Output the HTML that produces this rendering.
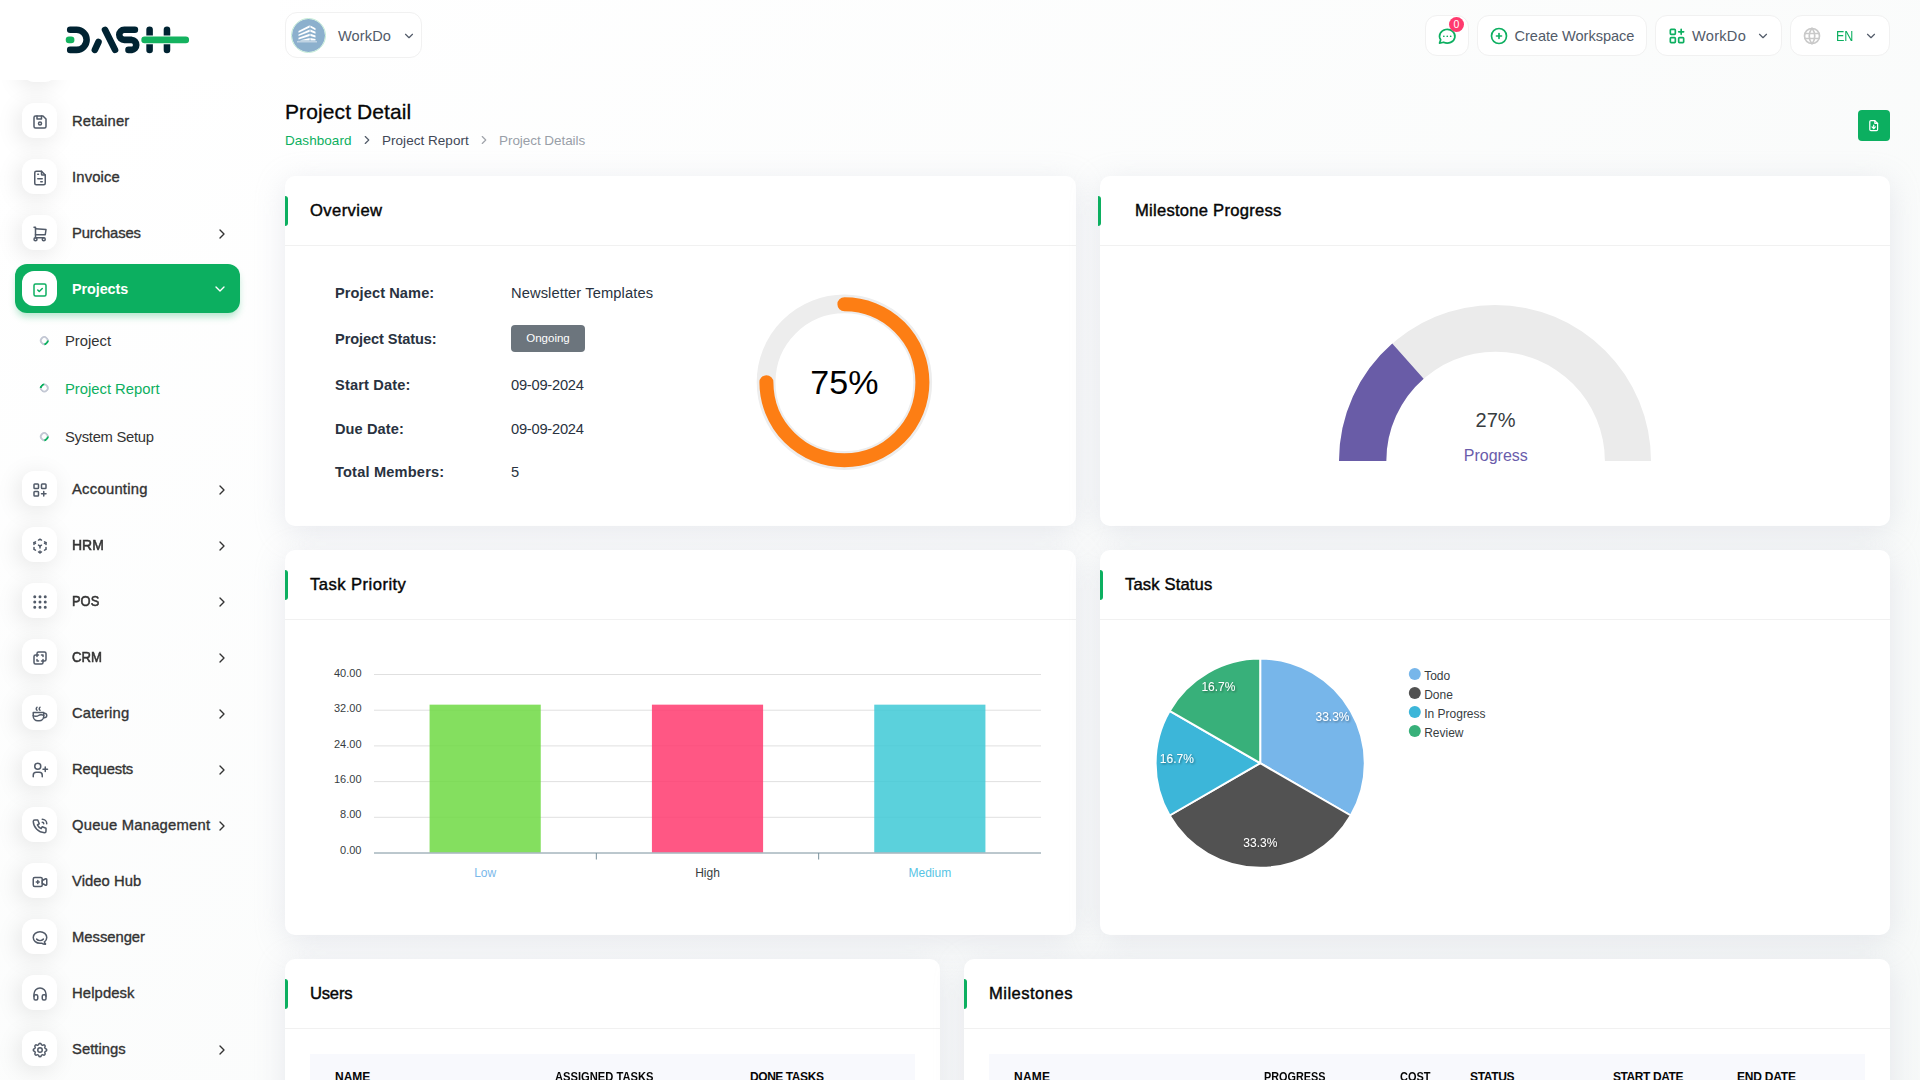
<!DOCTYPE html>
<html lang="en">
<head>
<meta charset="utf-8">
<title>Project Detail</title>
<style>
*{box-sizing:border-box;margin:0;padding:0}
html,body{width:1920px;height:1080px;overflow:hidden}
body{font-family:"Liberation Sans",sans-serif;color:#293240;background:#fff;position:relative}
#root{position:relative;width:1920px;height:1080px;overflow:hidden}
#bg{position:absolute;left:0;top:0;width:1920px;height:3000px;background:linear-gradient(141.55deg,rgba(240,244,243,0) 3.46%,#f0f4f3 99.86%),#fff}
svg{display:block}
.ico{fill:none;stroke:currentColor;stroke-width:2;stroke-linecap:round;stroke-linejoin:round}
.abs{position:absolute}
/* ---------- sidebar ---------- */
#sidebar{position:absolute;left:0;top:0;width:280px;height:1080px}
#logo{position:absolute;left:60px;top:20px}
#nav{position:absolute;left:0;top:80px;width:280px;height:1000px;overflow:hidden}
.ni{position:absolute;left:15px;width:225px;height:49px;border-radius:12px}
.ni .mic{position:absolute;left:7px;top:7px;width:35px;height:35px;border-radius:12px;background:#fff;
  box-shadow:-3px 4px 23px rgba(0,0,0,.1);color:#525b69}
.ni .mic svg{position:absolute;left:8.85px;top:10.1px;width:18px;height:18px}
.ni .tx{position:absolute;left:57px;top:1px;line-height:49px;font-size:14.8px;color:#333;white-space:nowrap;-webkit-text-stroke:.35px #333}
.ni .ar{position:absolute;left:199px;top:18px;width:16px;height:16px;color:#333}
.ni .ar svg{width:16px;height:16px;stroke-width:2}
.ni.act{background:#0CAF60;box-shadow:0 5px 7px -1px rgba(12,175,96,.3)}
.ni.act .tx{color:#fff;-webkit-text-stroke:0;font-weight:bold;font-size:14.4px}
.ni.act .mic{color:#0CAF60;box-shadow:none}
.ni.act .ar{color:#fff;left:197px;top:16.5px}
.si{position:absolute;left:0;width:240px;height:48px}
.si .bl{position:absolute;left:39.7px;top:19px;width:8.6px;height:8.6px;border-radius:50%;border:2px solid #c3c8d4;border-right-color:#0CAF60;transform:rotate(45deg)}
.si.act .bl{transform:rotate(225deg)}
.si .tx{position:absolute;left:65px;top:0;line-height:48px;font-size:14.8px;color:#333;white-space:nowrap}
.si.act .tx{color:#0CAF60}
/* ---------- header ---------- */
.hb{position:absolute;background:#fff;border:1px solid #f1f1f1;border-radius:12px}
.hb .t{position:absolute;white-space:nowrap;font-size:14.6px;color:#525b69;line-height:20px}
/* ---------- cards ---------- */
.card{position:absolute;background:#fff;border-radius:10px;box-shadow:0 6px 30px rgba(182,186,203,.3)}
.card .hd{position:absolute;left:0;top:0;right:0;height:70px;border-bottom:1px solid #f1f1f1}
.card .hd:before{content:"";position:absolute;left:0;top:20px;width:3px;height:30px;background:#0CAF60;border-radius:0 3px 3px 0}
.card .hd h5{position:absolute;left:25px;top:1px;line-height:68px;font-size:16.6px;font-weight:normal;color:#060606;white-space:nowrap;-webkit-text-stroke:.42px #060606}
.card .hd2:before{left:-2px}
.lbl{position:absolute;left:50px;font-size:14.6px;font-weight:bold;color:#293240;white-space:nowrap;line-height:20px}
.val{position:absolute;left:226px;font-size:14.7px;color:#293240;white-space:nowrap;line-height:20px}
.th{position:absolute;font-size:12px;font-weight:bold;color:#060606;white-space:nowrap;line-height:14px;top:16px}
</style>
</head>
<body>
<div id="root">
<div id="bg"></div>

<!-- ================= SIDEBAR ================= -->
<div id="sidebar">
  <div id="nav">
    <div class="ni" style="top:-40px"><span class="mic"><svg class="ico" viewBox="0 0 24 24" ><path d="M6 4h10l4 4v10a2 2 0 0 1 -2 2h-12a2 2 0 0 1 -2 -2v-12a2 2 0 0 1 2 -2"/><circle cx="12" cy="14" r="2"/><polyline points="14 4 14 8 8 8 8 4"/></svg></span><span class="tx" style="letter-spacing:-0.146px">Prev</span></div>
    <div class="ni" style="top:16px"><span class="mic"><svg class="ico" viewBox="0 0 24 24" ><path d="M6 4h10l4 4v10a2 2 0 0 1 -2 2h-12a2 2 0 0 1 -2 -2v-12a2 2 0 0 1 2 -2"/><circle cx="12" cy="14" r="2"/><polyline points="14 4 14 8 8 8 8 4"/></svg></span><span class="tx" style="letter-spacing:0.188px">Retainer</span></div>
    <div class="ni" style="top:72px"><span class="mic"><svg class="ico" viewBox="0 0 24 24" ><path d="M14 3v4a1 1 0 0 0 1 1h4"/><path d="M17 21h-10a2 2 0 0 1 -2 -2v-14a2 2 0 0 1 2 -2h7l5 5v11a2 2 0 0 1 -2 2z"/><line x1="9" y1="7" x2="10" y2="7"/><line x1="9" y1="13" x2="15" y2="13"/><line x1="13" y1="17" x2="15" y2="17"/></svg></span><span class="tx" style="letter-spacing:0.143px">Invoice</span></div>
    <div class="ni" style="top:128px"><span class="mic"><svg class="ico" viewBox="0 0 24 24" ><circle cx="6" cy="19" r="2"/><circle cx="17" cy="19" r="2"/><path d="M17 17h-11v-14h-2"/><path d="M6 5l14 1l-1 7h-13"/></svg></span><span class="tx" style="letter-spacing:-0.115px">Purchases</span><span class="ar"><svg class="ico" viewBox="0 0 24 24" ><polyline points="9 6 15 12 9 18"/></svg></span></div>
    <div class="ni act" style="top:184px"><span class="mic"><svg class="ico" viewBox="0 0 24 24" ><rect x="4" y="4" width="16" height="16" rx="2"/><path d="M9 12l2 2l4 -4"/></svg></span><span class="tx" style="letter-spacing:-0.078px">Projects</span><span class="ar"><svg class="ico" viewBox="0 0 24 24" ><polyline points="6 9 12 15 18 9"/></svg></span></div>
    <div class="ni" style="top:384px"><span class="mic"><svg class="ico" viewBox="0 0 24 24" ><rect x="4" y="4" width="6" height="6" rx="1"/><rect x="14" y="4" width="6" height="6" rx="1"/><rect x="4" y="14" width="6" height="6" rx="1"/><path d="M14 17h6m-3 -3v6"/></svg></span><span class="tx" style="letter-spacing:0.253px">Accounting</span><span class="ar"><svg class="ico" viewBox="0 0 24 24" ><polyline points="9 6 15 12 9 18"/></svg></span></div>
    <div class="ni" style="top:440px"><span class="mic"><svg class="ico" viewBox="0 0 24 24" ><path d="M6 17.6l-2 -1.1v-2.5"/><path d="M4 10v-2.5l2 -1.1"/><path d="M10 4.1l2 -1.1l2 1.1"/><path d="M18 6.4l2 1.1v2.5"/><path d="M20 14v2.5l-2 1.12"/><path d="M14 19.9l-2 1.1l-2 -1.1"/><line x1="12" y1="12" x2="14" y2="10.9"/><line x1="18" y1="8.6" x2="20" y2="7.5"/><line x1="12" y1="12" x2="12" y2="14.5"/><line x1="12" y1="18.5" x2="12" y2="21"/><path d="M12 12l-2 -1.12"/><line x1="6" y1="8.6" x2="4" y2="7.5"/></svg></span><span class="tx" style="transform:scaleX(0.942);transform-origin:0 50%;-webkit-text-stroke:.55px #333">HRM</span><span class="ar"><svg class="ico" viewBox="0 0 24 24" ><polyline points="9 6 15 12 9 18"/></svg></span></div>
    <div class="ni" style="top:496px"><span class="mic"><svg class="ico" viewBox="0 0 24 24" ><circle cx="5" cy="5" r="1" fill="currentColor"/><circle cx="12" cy="5" r="1" fill="currentColor"/><circle cx="19" cy="5" r="1" fill="currentColor"/><circle cx="5" cy="12" r="1" fill="currentColor"/><circle cx="12" cy="12" r="1" fill="currentColor"/><circle cx="19" cy="12" r="1" fill="currentColor"/><circle cx="5" cy="19" r="1" fill="currentColor"/><circle cx="12" cy="19" r="1" fill="currentColor"/><circle cx="19" cy="19" r="1" fill="currentColor"/></svg></span><span class="tx" style="transform:scaleX(0.872);transform-origin:0 50%;-webkit-text-stroke:.55px #333">POS</span><span class="ar"><svg class="ico" viewBox="0 0 24 24" ><polyline points="9 6 15 12 9 18"/></svg></span></div>
    <div class="ni" style="top:552px"><span class="mic"><svg class="ico" viewBox="0 0 24 24" ><path d="M16 16v2a2 2 0 0 1 -2 2h-8a2 2 0 0 1 -2 -2v-8a2 2 0 0 1 2 -2h2v-2a2 2 0 0 1 2 -2h8a2 2 0 0 1 2 2v8a2 2 0 0 1 -2 2h-2"/><polyline points="10 8 8 8 8 10"/><polyline points="8 14 8 16 10 16"/><polyline points="14 8 16 8 16 10"/><polyline points="16 14 16 16 14 16"/></svg></span><span class="tx" style="transform:scaleX(0.890);transform-origin:0 50%;-webkit-text-stroke:.55px #333">CRM</span><span class="ar"><svg class="ico" viewBox="0 0 24 24" ><polyline points="9 6 15 12 9 18"/></svg></span></div>
    <div class="ni" style="top:608px"><span class="mic"><svg class="ico" viewBox="0 0 24 24" ><path d="M3 14c.83 .642 2.077 1.017 3.5 1c1.423 .017 2.67 -.358 3.5 -1c.83 -.642 2.077 -1.017 3.5 -1c1.423 -.017 2.67 .358 3.5 1"/><path d="M8 3a2.4 2.4 0 0 0 -1 2a2.4 2.4 0 0 0 1 2"/><path d="M12 3a2.4 2.4 0 0 0 -1 2a2.4 2.4 0 0 0 1 2"/><path d="M3 10h14v5a6 6 0 0 1 -6 6h-2a6 6 0 0 1 -6 -6v-5z"/><path d="M16.746 16.726a3 3 0 1 0 .252 -5.555"/></svg></span><span class="tx" style="letter-spacing:0.188px">Catering</span><span class="ar"><svg class="ico" viewBox="0 0 24 24" ><polyline points="9 6 15 12 9 18"/></svg></span></div>
    <div class="ni" style="top:664px"><span class="mic"><svg class="ico" viewBox="0 0 24 24" ><circle cx="9" cy="7" r="4"/><path d="M3 21v-2a4 4 0 0 1 4 -4h4a4 4 0 0 1 4 4v2"/><path d="M16 11h6m-3 -3v6"/></svg></span><span class="tx" style="letter-spacing:-0.181px">Requests</span><span class="ar"><svg class="ico" viewBox="0 0 24 24" ><polyline points="9 6 15 12 9 18"/></svg></span></div>
    <div class="ni" style="top:720px"><span class="mic"><svg class="ico" viewBox="0 0 24 24" ><path d="M5 4h4l2 5l-2.5 1.5a11 11 0 0 0 5 5l1.5 -2.5l5 2v4a2 2 0 0 1 -2 2a16 16 0 0 1 -15 -15a2 2 0 0 1 2 -2"/><path d="M15 7a2 2 0 0 1 2 2"/><path d="M15 3a6 6 0 0 1 6 6"/></svg></span><span class="tx" style="letter-spacing:0.206px">Queue Management</span><span class="ar"><svg class="ico" viewBox="0 0 24 24" ><polyline points="9 6 15 12 9 18"/></svg></span></div>
    <div class="ni" style="top:776px"><span class="mic"><svg class="ico" viewBox="0 0 24 24" ><path d="M15 10l4.553 -2.276a1 1 0 0 1 1.447 .894v6.764a1 1 0 0 1 -1.447 .894l-4.553 -2.276v-4z"/><rect x="3" y="6" width="12" height="12" rx="2"/><line x1="7" y1="12" x2="11" y2="12"/><line x1="9" y1="10" x2="9" y2="14"/></svg></span><span class="tx" style="letter-spacing:0.051px">Video Hub</span></div>
    <div class="ni" style="top:832px"><span class="mic"><svg class="ico" viewBox="0 0 24 24" ><path d="M17.802 17.292s.077 -.055 .2 -.149c1.843 -1.425 3 -3.49 3 -5.789c0 -4.286 -4.03 -7.764 -9 -7.764c-4.97 0 -9 3.478 -9 7.764c0 4.288 4.03 7.646 9 7.646c.424 0 1.12 -.028 2.088 -.084c1.262 .82 3.104 1.493 4.716 1.493c.499 0 .734 -.41 .414 -.828c-.486 -.596 -1.156 -1.551 -1.416 -2.29z"/><path d="M7.5 13.5c2.5 2.5 6.5 2.5 9 0"/></svg></span><span class="tx" style="letter-spacing:-0.025px">Messenger</span></div>
    <div class="ni" style="top:888px"><span class="mic"><svg class="ico" viewBox="0 0 24 24" ><rect x="4" y="13" rx="2" width="5" height="7"/><rect x="15" y="13" rx="2" width="5" height="7"/><path d="M4 15v-3a8 8 0 0 1 16 0v3"/></svg></span><span class="tx" style="letter-spacing:0.116px">Helpdesk</span></div>
    <div class="ni" style="top:944px"><span class="mic"><svg class="ico" viewBox="0 0 24 24" ><path d="M10.325 4.317c.426 -1.756 2.924 -1.756 3.35 0a1.724 1.724 0 0 0 2.573 1.066c1.543 -.94 3.31 .826 2.37 2.37a1.724 1.724 0 0 0 1.065 2.572c1.756 .426 1.756 2.924 0 3.35a1.724 1.724 0 0 0 -1.066 2.573c.94 1.543 -.826 3.31 -2.37 2.37a1.724 1.724 0 0 0 -2.572 1.065c-.426 1.756 -2.924 1.756 -3.35 0a1.724 1.724 0 0 0 -2.573 -1.066c-1.543 .94 -3.31 -.826 -2.37 -2.37a1.724 1.724 0 0 0 -1.065 -2.572c-1.756 -.426 -1.756 -2.924 0 -3.35a1.724 1.724 0 0 0 1.066 -2.573c-.94 -1.543 .826 -3.31 2.37 -2.37c1 .608 2.296 .07 2.572 -1.065z"/><circle cx="12" cy="12" r="3"/></svg></span><span class="tx" style="letter-spacing:0.04px">Settings</span><span class="ar"><svg class="ico" viewBox="0 0 24 24" ><polyline points="9 6 15 12 9 18"/></svg></span></div>
    <div class="si" style="top:236.5px"><span class="bl"></span><span class="tx" style="letter-spacing:-0.01px">Project</span></div>
    <div class="si act" style="top:284.5px"><span class="bl"></span><span class="tx" style="letter-spacing:-0.006px">Project Report</span></div>
    <div class="si" style="top:332.5px"><span class="bl"></span><span class="tx" style="letter-spacing:-0.284px">System Setup</span></div>
  </div>
  <div class="abs" style="left:0;top:0;width:280px;height:80px;background:#fff"></div>
  <svg id="logo" width="130" height="40" viewBox="60 20 130 40">
    <g fill="none" stroke-linecap="round" stroke-linejoin="round" stroke-width="6.56" stroke="#002332">
      <path d="M70.2 29.84H76.6A10.03 10.03 0 0 1 76.6 49.9H70.2"/>
      <path d="M94.85 49.9L98.5 42.0"/>
      <path d="M105 29.84L115.05 49.9"/>
      <path d="M134.9 29.84H124.3A5.03 5.03 0 0 0 124.3 39.9H131.75A5.03 5.03 0 0 1 131.75 49.9H128.5"/>
      <path d="M149.6 29.84V49.9"/>
      <path d="M166.97 29.84V49.9"/>
      <path d="M144.6 39.9H185.8" stroke="#fff" stroke-width="8.6"/>
      <path d="M144.6 39.9H185.8" stroke="#14B25F"/>
      <path d="M69 39.9H71.15" stroke="#14B25F"/>
    </g>
  </svg>
</div>

<!-- ================= HEADER ================= -->
<div id="header">
  <div class="hb" style="left:285px;top:12px;width:137px;height:46px">
    <div class="abs" style="left:4.7px;top:4.5px;width:35px;height:35px;border-radius:50%;background:#8cb0cd;background-clip:padding-box;border:1.2px solid #c4ecd7;border-left-width:1.7px;overflow:hidden">
      <svg width="33" height="33" viewBox="1.5 1.2 33 33"><g fill="#fff"><path d="M8 13.2L19.2 7.5V9.6L8 14.9z"/><path d="M8 16.6L19.2 11.6V13.9L8 18.3z"/><path d="M8 20L19.2 15.9V18.2L8 21.7z"/><path d="M8 22.9L19.2 20.2V22.6H8z"/><path d="M19.9 7.6L25 10.4V12.4L19.9 9.7z"/><path d="M19.9 11.7L25 14V16L19.9 14z"/><path d="M19.9 16L25 17.6V19.6L19.9 18.3z"/><path d="M19.9 20.3L25 21.2V22.6H19.9z"/><path d="M6.5 23.3H26.5V24.8H6.5z" opacity=".45"/></g></svg>
    </div>
    <div class="t" style="left:52px;top:13px;letter-spacing:0.109px">WorkDo</div>
    <div class="abs" style="left:116px;top:15.5px;width:14px;height:14px;color:#525b69"><svg class="ico" viewBox="0 0 24 24" style="stroke-width:2"><polyline points="6 9 12 15 18 9"/></svg></div>
  </div>

  <div class="hb" style="left:1424.5px;top:14.5px;width:44px;height:41px">
    <div class="abs" style="left:11px;top:10px;width:20.5px;height:20.5px;color:#0CAF60"><svg class="ico" viewBox="0 0 24 24" ><path d="M3 20l1.3 -3.9a9 8 0 1 1 3.4 2.9l-4.7 1"/><line x1="12" y1="12" x2="12" y2="12.01"/><line x1="8" y1="12" x2="8" y2="12.01"/><line x1="16" y1="12" x2="16" y2="12.01"/></svg></div>
    <div class="abs" style="left:23.5px;top:1px;width:15px;height:15px;border-radius:50%;background:#ff3a6e;color:#fff;font-size:10.5px;line-height:15.5px;text-align:center">0</div>
  </div>
  <div class="hb" style="left:1476.5px;top:14.5px;width:170px;height:41px">
    <div class="abs" style="left:11px;top:10px;width:20px;height:20px;color:#0CAF60"><svg class="ico" viewBox="0 0 24 24" ><circle cx="12" cy="12" r="9"/><line x1="9" y1="12" x2="15" y2="12"/><line x1="12" y1="9" x2="12" y2="15"/></svg></div>
    <div class="t" style="left:37px;top:10px;letter-spacing:-0.04px">Create Workspace</div>
  </div>
  <div class="hb" style="left:1654.5px;top:14.5px;width:127.5px;height:41px">
    <div class="abs" style="left:11px;top:10px;width:20px;height:20px;color:#0CAF60"><svg class="ico" viewBox="0 0 24 24" ><rect x="4" y="4" width="6" height="6" rx="1"/><rect x="4" y="14" width="6" height="6" rx="1"/><rect x="14" y="14" width="6" height="6" rx="1"/><path d="M14 7h6m-3 -3v6"/></svg></div>
    <div class="t" style="left:36.5px;top:10px;letter-spacing:0.269px">WorkDo</div>
    <div class="abs" style="left:100px;top:13px;width:14px;height:14px;color:#525b69"><svg class="ico" viewBox="0 0 24 24" style="stroke-width:2"><polyline points="6 9 12 15 18 9"/></svg></div>
  </div>
  <div class="hb" style="left:1789.5px;top:14.5px;width:100.5px;height:41px">
    <div class="abs" style="left:11px;top:10px;width:20px;height:20px;color:#c9c9c9"><svg class="ico" viewBox="0 0 24 24" ><circle cx="12" cy="12" r="9"/><line x1="3.6" y1="9" x2="20.4" y2="9"/><line x1="3.6" y1="15" x2="20.4" y2="15"/><path d="M11.5 3a17 17 0 0 0 0 18"/><path d="M12.5 3a17 17 0 0 1 0 18"/></svg></div>
    <div class="t" style="left:45px;top:10px;color:#0CAF60;transform:scaleX(.86);transform-origin:0 50%">EN</div>
    <div class="abs" style="left:73px;top:13px;width:14px;height:14px;color:#525b69"><svg class="ico" viewBox="0 0 24 24" style="stroke-width:2"><polyline points="6 9 12 15 18 9"/></svg></div>
  </div>
  <div class="abs" style="left:1858px;top:110px;width:32px;height:31px;border-radius:4px;background:#0CAF60;color:#fff">
    <div class="abs" style="left:9.2px;top:9.3px;width:13.4px;height:13.4px"><svg class="ico" viewBox="0 0 24 24" style="stroke-width:2.2"><path d="M14 3v4a1 1 0 0 0 1 1h4"/><path d="M17 21h-10a2 2 0 0 1 -2 -2v-14a2 2 0 0 1 2 -2h7l5 5v11a2 2 0 0 1 -2 2z"/><line x1="12" y1="11" x2="12" y2="17"/><polyline points="9 14 12 17 15 14"/></svg></div>
  </div>
  <div class="abs" style="left:360px;top:133px;width:14px;height:14px;color:#525b69"><svg class="ico" viewBox="0 0 24 24" style="stroke-width:2"><polyline points="9 6 15 12 9 18"/></svg></div>
  <div class="abs" style="left:477px;top:133px;width:14px;height:14px;color:#a0a4ab"><svg class="ico" viewBox="0 0 24 24" style="stroke-width:2"><polyline points="9 6 15 12 9 18"/></svg></div>
</div>

<!-- ================= PAGE TITLE ================= -->
<div class="abs" style="left:285px;top:98px;font-size:21px;line-height:28px;color:#060606;white-space:nowrap;-webkit-text-stroke:.3px #060606;letter-spacing:0.105px">Project Detail</div>
<div class="abs" style="left:285px;top:132px;font-size:13.5px;line-height:18px;white-space:nowrap;color:#0CAF60;letter-spacing:0.057px">Dashboard</div>
<div class="abs" style="left:382px;top:132px;font-size:13.5px;line-height:18px;white-space:nowrap;color:#3f4756;letter-spacing:0.035px">Project Report</div>
<div class="abs" style="left:499px;top:132px;font-size:13.5px;line-height:18px;white-space:nowrap;color:#999fa8;letter-spacing:-0.057px">Project Details</div>

<!-- ================= CARDS ================= -->
<div class="card" id="c1" style="left:285px;top:176px;width:791px;height:350px">
  <div class="hd"><h5 style="letter-spacing:0.406px">Overview</h5></div>
  <div class="lbl" style="top:107px;letter-spacing:0.088px">Project Name:</div><div class="val" style="top:107px;letter-spacing:0.098px">Newsletter Templates</div>
  <div class="lbl" style="top:153px;letter-spacing:-0.093px">Project Status:</div>
  <div class="abs" style="left:226px;top:149px;width:74px;height:27px;border-radius:4px;background:#6c757d;color:#fff;font-size:11.5px;line-height:26px;text-align:center">Ongoing</div>
  <div class="lbl" style="top:199px;letter-spacing:0.16px">Start Date:</div><div class="val" style="top:199px;letter-spacing:-0.249px">09-09-2024</div>
  <div class="lbl" style="top:243px;letter-spacing:0.078px">Due Date:</div><div class="val" style="top:243px;letter-spacing:-0.249px">09-09-2024</div>
  <div class="lbl" style="top:286px;letter-spacing:0.186px">Total Members:</div><div class="val" style="top:286px">5</div>
  <svg class="abs" style="left:459px;top:106px" width="200" height="200" viewBox="0 0 200 200">
    <circle cx="100.4" cy="100.2" r="78.3" fill="none" stroke="#ededed" stroke-width="18.8"/>
    <path d="M100.40 22.20 A78 78 0 1 1 22.40 100.20" fill="none" stroke="#fd7e14" stroke-width="14" stroke-linecap="round"/>
    <text x="100.4" y="111.5" text-anchor="middle" font-family="Liberation Sans, sans-serif" font-size="34" fill="#000">75%</text>
  </svg>
</div>

<div class="card" id="c2" style="left:1100px;top:176px;width:790px;height:350px">
  <div class="hd hd2"><h5 style="left:35px;letter-spacing:0.248px">Milestone Progress</h5></div>
  <svg class="abs" style="left:0;top:70px" width="790" height="280" viewBox="0 70 790 280">
    <path d="M239.00 285.00 A156 156 0 0 1 551.00 285.00 L504.90 285.00 A109.3 109.3 0 0 0 286.30 285.00 Z" fill="#ebebeb"/>
    <path d="M239.00 285.00 A156 156 0 0 1 292.24 167.62 L323.61 202.76 A109.3 109.3 0 0 0 286.30 285.00 Z" fill="#695ca7"/>
    <text x="395.6" y="251" text-anchor="middle" font-family="Liberation Sans, sans-serif" font-size="20" fill="#373d3f">27%</text>
    <text x="395.8" y="284.5" text-anchor="middle" font-family="Liberation Sans, sans-serif" font-size="16" fill="#6a5cab">Progress</text>
  </svg>
</div>

<div class="card" id="c3" style="left:285px;top:550px;width:791px;height:385px">
  <div class="hd"><h5 style="letter-spacing:0.462px">Task Priority</h5></div>
  <svg class="abs" style="left:0;top:70px" width="791" height="315" viewBox="0 70 791 315" font-family="Liberation Sans, sans-serif">
    <line x1="89" x2="756" y1="124.50" y2="124.50" stroke="#e0e0e0" stroke-width="1"/>
    <line x1="89" x2="756" y1="160.20" y2="160.20" stroke="#e0e0e0" stroke-width="1"/>
    <line x1="89" x2="756" y1="195.90" y2="195.90" stroke="#e0e0e0" stroke-width="1"/>
    <line x1="89" x2="756" y1="231.60" y2="231.60" stroke="#e0e0e0" stroke-width="1"/>
    <line x1="89" x2="756" y1="267.30" y2="267.30" stroke="#e0e0e0" stroke-width="1"/>
    <rect x="144.58" y="154.66" width="111.17" height="147.74" fill="#6fd943" fill-opacity=".85"/>
    <rect x="366.92" y="154.66" width="111.17" height="147.74" fill="#ff3a6e" fill-opacity=".85"/>
    <rect x="589.25" y="154.66" width="111.17" height="147.74" fill="#3ec9d6" fill-opacity=".85"/>
    <line x1="89" x2="756" y1="303.00" y2="303.00" stroke="#78909c" stroke-width="1"/>
    <line x1="311.33" x2="311.33" y1="303.00" y2="309.50" stroke="#78909c" stroke-width="1"/>
    <line x1="533.67" x2="533.67" y1="303.00" y2="309.50" stroke="#78909c" stroke-width="1"/>
    <text x="76.5" y="127.10" text-anchor="end" font-size="11" fill="#373d3f">40.00</text>
    <text x="76.5" y="162.42" text-anchor="end" font-size="11" fill="#373d3f">32.00</text>
    <text x="76.5" y="197.74" text-anchor="end" font-size="11" fill="#373d3f">24.00</text>
    <text x="76.5" y="233.06" text-anchor="end" font-size="11" fill="#373d3f">16.00</text>
    <text x="76.5" y="268.38" text-anchor="end" font-size="11" fill="#373d3f">8.00</text>
    <text x="76.5" y="303.70" text-anchor="end" font-size="11" fill="#373d3f">0.00</text>
    <text x="200.17" y="327.00" text-anchor="middle" font-size="12" fill="#7ab8ea">Low</text>
    <text x="422.50" y="327.00" text-anchor="middle" font-size="12" fill="#373d3f">High</text>
    <text x="644.83" y="327.00" text-anchor="middle" font-size="12" fill="#57c4e4">Medium</text>
    </svg>
</div>

<div class="card" id="c4" style="left:1100px;top:550px;width:790px;height:385px">
  <div class="hd"><h5 style="letter-spacing:0.147px">Task Status</h5></div>
  <svg class="abs" style="left:0;top:70px" width="790" height="315" viewBox="0 70 790 315" font-family="Liberation Sans, sans-serif">
    <defs><filter id="ds" x="-20%" y="-20%" width="150%" height="150%"><feDropShadow dx="1" dy="1" stdDeviation="1" flood-color="#000" flood-opacity=".45"/></filter></defs>
    <path d="M160.20 213.20 L160.20 108.60 A104.6 104.6 0 0 1 250.79 265.50 Z" fill="#77b6ea" stroke="#fff" stroke-width="2" stroke-linejoin="round"/>
    <path d="M160.20 213.20 L250.79 265.50 A104.6 104.6 0 0 1 69.61 265.50 Z" fill="#525252" stroke="#fff" stroke-width="2" stroke-linejoin="round"/>
    <path d="M160.20 213.20 L69.61 265.50 A104.6 104.6 0 0 1 69.61 160.90 Z" fill="#3cb6d9" stroke="#fff" stroke-width="2" stroke-linejoin="round"/>
    <path d="M160.20 213.20 L69.61 160.90 A104.6 104.6 0 0 1 160.20 108.60 Z" fill="#38b07a" stroke="#fff" stroke-width="2" stroke-linejoin="round"/>
    <text x="232.5" y="170.9" text-anchor="middle" font-size="12" fill="#fff" filter="url(#ds)">33.3%</text>
    <text x="160.3" y="297.1" text-anchor="middle" font-size="12" fill="#fff" filter="url(#ds)">33.3%</text>
    <text x="76.8" y="213.1" text-anchor="middle" font-size="12" fill="#fff" filter="url(#ds)">16.7%</text>
    <text x="118.4" y="141.1" text-anchor="middle" font-size="12" fill="#fff" filter="url(#ds)">16.7%</text>
    <circle cx="314.8" cy="124.0" r="6" fill="#77b6ea"/>
    <text x="324.2" y="129.5" font-size="12" fill="#373d3f">Todo</text>
    <circle cx="314.8" cy="143.0" r="6" fill="#525252"/>
    <text x="324.2" y="148.5" font-size="12" fill="#373d3f">Done</text>
    <circle cx="314.8" cy="162.0" r="6" fill="#3cb6d9"/>
    <text x="324.2" y="167.5" font-size="12" fill="#373d3f">In Progress</text>
    <circle cx="314.8" cy="181.0" r="6" fill="#38b07a"/>
    <text x="324.2" y="186.5" font-size="12" fill="#373d3f">Review</text>
    </svg>
</div>

<div class="card" id="c5" style="left:285px;top:959px;width:655px;height:300px">
  <div class="hd"><h5 style="letter-spacing:-0.211px">Users</h5></div>
  <div class="abs" style="left:25px;top:95px;width:605px;height:60px;background:#f8f9fd">
    <div class="th" style="left:25px;letter-spacing:-0.015px">NAME</div>
    <div class="th" style="left:245px;transform:scaleX(0.931);transform-origin:0 50%">ASSIGNED TASKS</div>
    <div class="th" style="left:440px;letter-spacing:-0.433px">DONE TASKS</div>
  </div>
</div>

<div class="card" id="c6" style="left:964px;top:959px;width:926px;height:300px">
  <div class="hd"><h5 style="letter-spacing:0.464px">Milestones</h5></div>
  <div class="abs" style="left:25px;top:95px;width:876px;height:60px;background:#f8f9fd">
    <div class="th" style="left:25px;letter-spacing:0.219px">NAME</div>
    <div class="th" style="left:275px;transform:scaleX(0.904);transform-origin:0 50%">PROGRESS</div>
    <div class="th" style="left:411px;transform:scaleX(0.915);transform-origin:0 50%">COST</div>
    <div class="th" style="left:481px;letter-spacing:-0.344px">STATUS</div>
    <div class="th" style="left:624px;letter-spacing:-0.413px">START DATE</div>
    <div class="th" style="left:748px;letter-spacing:-0.208px">END DATE</div>
  </div>
</div>

</div>
</body>
</html>
